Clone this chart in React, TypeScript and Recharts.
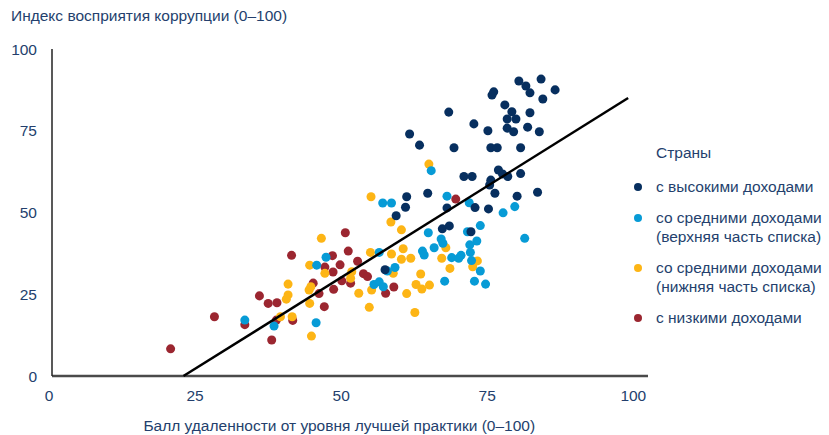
import React from 'react';
import { ScatterChart, Scatter, XAxis, YAxis, ZAxis, Label } from 'recharts';

const FONT = "'Liberation Sans Narrow', 'Liberation Sans', Arial, sans-serif";
const TEXT = '#243f6d';
const FS = 15.5;

const xTicks = [0, 25, 50, 75, 100];
const yTicks = [0, 25, 50, 75, 100];

// [балл удаленности, индекс восприятия коррупции]
const highIncome = [
  [79.9, 90.2], [83.7, 90.8], [81.1, 88.7], [81.8, 86.6], [86.1, 87.5], [84.0, 84.7],
  [75.6, 86.9], [75.3, 85.9], [67.9, 80.7], [77.5, 82.9], [78.7, 80.8], [81.8, 80.5],
  [72.2, 77.1], [74.6, 75.0], [77.9, 78.6], [79.4, 78.6], [77.9, 75.8], [79.0, 74.7],
  [81.4, 76.1], [83.4, 74.7], [68.8, 69.8], [75.1, 69.8], [76.2, 69.8], [80.2, 69.8],
  [76.4, 63.0], [70.5, 61.0], [71.9, 61.0], [75.1, 59.9], [74.9, 58.4], [78.0, 61.0],
  [80.2, 61.9], [77.1, 61.8], [75.8, 55.9], [79.6, 55.0], [83.1, 56.2], [67.6, 51.4],
  [72.4, 51.5], [74.7, 51.1], [61.2, 74.0], [62.9, 70.6], [60.7, 54.8], [60.5, 51.6],
  [64.3, 55.9], [58.9, 49.0], [66.8, 45.0], [68.0, 45.9], [71.7, 44.1], [57.0, 32.5],
].map(([x, y]) => ({ x, y }));

const upperMiddle = [
  [67.6, 55.0], [71.4, 53.0], [77.2, 49.9], [79.2, 51.8], [64.9, 62.8], [56.6, 52.9],
  [58.1, 52.9], [80.9, 42.1], [73.3, 46.0], [71.1, 44.1], [64.4, 43.8], [66.6, 41.9],
  [66.9, 40.6], [65.4, 39.2], [72.7, 41.3], [71.5, 40.1], [63.4, 38.2], [63.7, 37.0],
  [68.4, 36.2], [70.0, 36.9], [69.6, 36.0], [71.6, 37.8], [71.8, 35.3], [73.3, 32.1],
  [67.2, 29.0], [72.3, 29.0], [74.2, 28.1], [58.7, 33.2], [57.4, 32.1], [33.0, 17.1],
  [38.0, 15.3], [45.2, 16.3], [45.3, 33.9], [46.9, 36.3], [56.0, 37.8], [55.1, 28.0],
  [56.0, 28.8], [56.7, 27.3],
].map(([x, y]) => ({ x, y }));

const lowerMiddle = [
  [64.5, 64.8], [54.6, 54.8], [58.0, 47.1], [59.8, 44.7], [67.4, 39.2], [61.4, 36.0],
  [66.7, 36.0], [72.8, 35.2], [72.0, 33.4], [68.1, 32.9], [63.1, 31.2], [62.3, 28.0],
  [63.3, 26.6], [64.6, 27.8], [62.1, 19.4], [60.7, 25.2], [58.1, 37.3], [59.8, 35.7],
  [60.1, 38.9], [58.4, 31.4], [46.1, 42.1], [54.5, 37.8], [44.1, 33.9], [46.7, 31.4],
  [51.3, 31.9], [51.1, 29.9], [52.5, 25.3], [54.3, 21.0], [44.0, 26.3], [44.3, 27.3],
  [44.1, 22.2], [54.7, 26.3], [41.1, 18.1], [44.4, 12.2], [40.4, 28.1], [40.4, 24.8],
  [40.1, 23.5], [39.1, 18.1],
].map(([x, y]) => ({ x, y }));

const lowIncome = [
  [69.1, 54.1], [20.3, 8.3], [27.8, 18.1], [35.5, 24.5], [37.0, 22.2], [38.5, 22.4],
  [41.0, 36.9], [37.6, 11.0], [33.0, 15.7], [38.4, 17.1], [41.2, 17.0], [44.7, 28.4],
  [45.7, 25.2], [46.6, 21.2], [46.7, 33.3], [48.1, 31.8], [48.0, 36.8], [49.3, 34.0],
  [50.2, 43.8], [50.7, 38.2], [52.3, 35.1], [49.6, 29.1], [51.1, 28.4], [48.2, 26.5],
  [53.3, 31.3], [54.0, 30.4], [57.1, 25.3], [58.5, 27.2],
].map(([x, y]) => ({ x, y }));

const trendLine = [
  { x: 22.5, y: 0 },
  { x: 98.6, y: 85 },
];

const groups = [
  { key: 'low', label: ['с низкими доходами'], color: '#9b2630', data: lowIncome },
  { key: 'lowerMid', label: ['со средними доходами', '(нижняя часть списка)'], color: '#fdb515', data: lowerMiddle },
  { key: 'upperMid', label: ['со средними доходами', '(верхняя часть списка)'], color: '#079bd6', data: upperMiddle },
  { key: 'high', label: ['с высокими доходами'], color: '#072f5f', data: highIncome },
];

const legendOrder = ['high', 'upperMid', 'lowerMid', 'low'];

const CountryLegend = () => (
  <div
    style={{
      position: 'absolute',
      left: 630,
      top: 143,
      fontFamily: FONT,
      fontSize: FS,
      color: TEXT,
      lineHeight: '19px',
    }}
  >
    <div style={{ paddingLeft: 26, marginBottom: 15 }}>Страны</div>
    {legendOrder.map((k) => {
      const g = groups.find((it) => it.key === k)!;
      return (
        <div key={k} style={{ display: 'flex', alignItems: 'flex-start', marginBottom: 12 }}>
          <span
            style={{
              width: 8,
              height: 8,
              borderRadius: 4,
              background: g.color,
              marginTop: 6,
              marginLeft: 4,
              marginRight: 14,
              flex: 'none',
            }}
          />
          <div>
            {g.label.map((line) => (
              <div key={line}>{line}</div>
            ))}
          </div>
        </div>
      );
    })}
  </div>
);

const App: React.FC = () => {
  return (
    <div style={{ position: 'absolute', left: 0, top: 0, width: 829, height: 435, background: '#fff' }}>
      <ScatterChart width={829} height={435} margin={{ top: 49, right: 181, bottom: 29, left: 22 }}>
        <XAxis
          type="number"
          dataKey="x"
          domain={[0, 102]}
          ticks={xTicks}
          tickLine={false}
          tickSize={0}
          tickMargin={14}
          height={30}
          axisLine={{ stroke: '#4a4a4a', strokeWidth: 2.5 }}
          tick={{ fill: TEXT, fontSize: FS, fontFamily: FONT, dx: -3 }}
        >
          <Label
            content={({ viewBox }: any) => (
              <text x={viewBox.x + viewBox.width * 0.482} y={431} textAnchor="middle" fill={TEXT} fontSize={FS} fontFamily={FONT}>
                Балл удаленности от уровня лучшей практики (0–100)
              </text>
            )}
          />
        </XAxis>
        <YAxis
          type="number"
          dataKey="y"
          domain={[0, 100]}
          ticks={yTicks}
          tickLine={false}
          tickSize={0}
          tickMargin={15}
          width={30}
          axisLine={{ stroke: '#222', strokeWidth: 1.5 }}
          tick={{ fill: TEXT, fontSize: FS, fontFamily: FONT }}
        >
          <Label
            content={() => (
              <text x={11} y={21} fill={TEXT} fontSize={FS} fontFamily={FONT}>
                Индекс восприятия коррупции (0–100)
              </text>
            )}
          />
        </YAxis>
        <ZAxis range={[66, 66]} />
        {groups.map((g) => (
          <Scatter key={g.key} name={g.key} data={g.data} fill={g.color} isAnimationActive={false} />
        ))}
        <Scatter
          name="trend"
          data={trendLine}
          line={{ stroke: '#000', strokeWidth: 2.5 }}
          shape={() => <g />}
          legendType="none"
          isAnimationActive={false}
        />
      </ScatterChart>
      <CountryLegend />
    </div>
  );
};

export default App;
